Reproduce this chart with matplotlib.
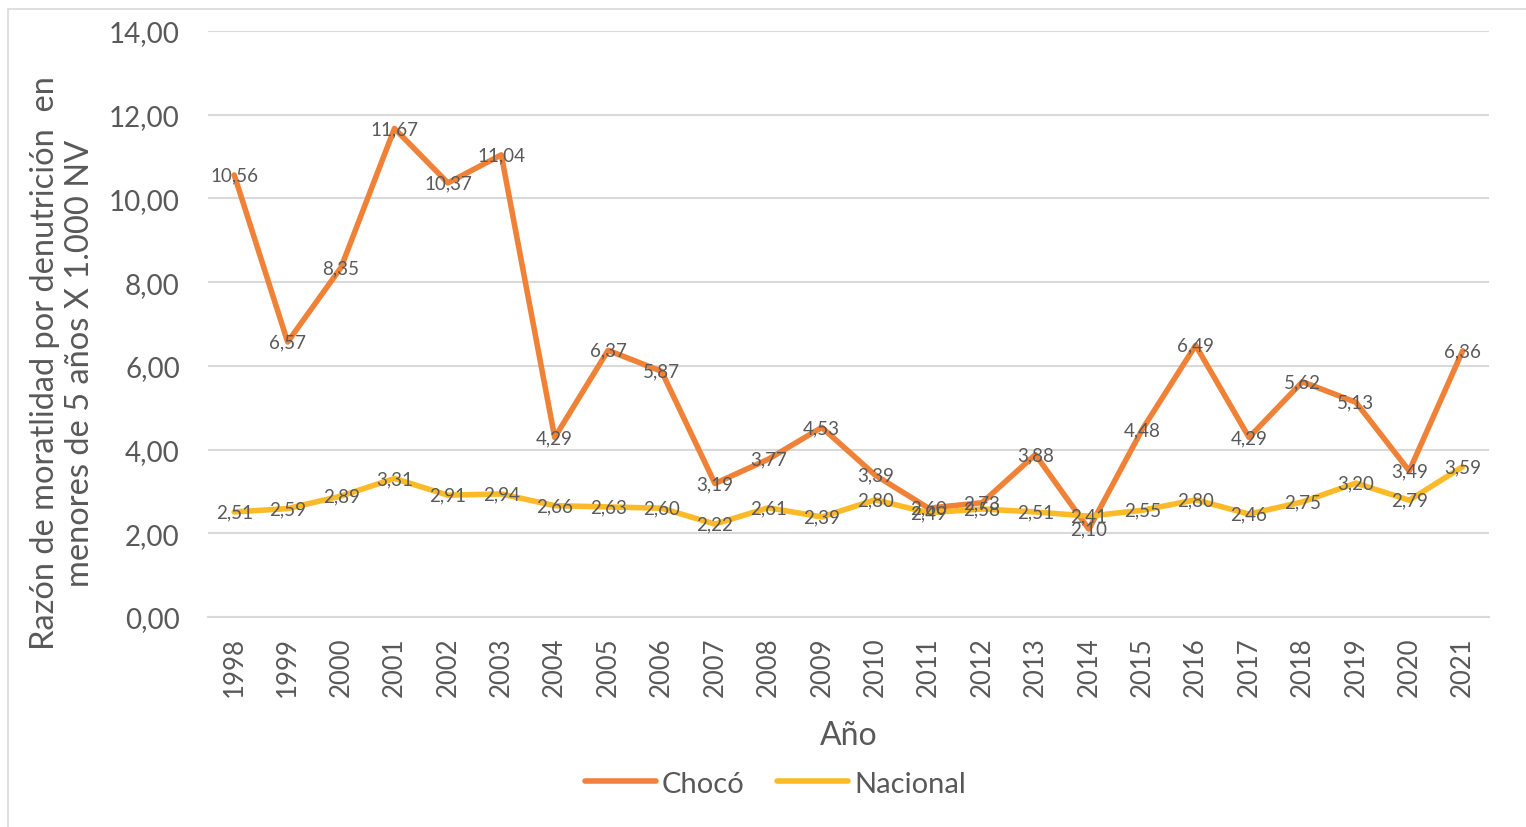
import matplotlib
matplotlib.use("Agg")
import matplotlib.pyplot as plt
from matplotlib.patches import Rectangle

# Data
years = [str(y) for y in range(1998, 2022)]
choco = [10.56, 6.57, 8.35, 11.67, 10.37, 11.04, 4.29, 6.37, 5.87, 3.19, 3.77, 4.53,
         3.39, 2.60, 2.73, 3.88, 2.10, 4.48, 6.49, 4.29, 5.62, 5.13, 3.49, 6.36]
nacional = [2.51, 2.59, 2.89, 3.31, 2.91, 2.94, 2.66, 2.63, 2.60, 2.22, 2.61, 2.39,
            2.80, 2.49, 2.58, 2.51, 2.41, 2.55, 2.80, 2.46, 2.75, 3.20, 2.79, 3.59]
y_ticks = [0, 2, 4, 6, 8, 10, 12, 14]

plt.rcParams['font.family'] = ['Lato', 'DejaVu Sans']
gray = '#595959'

fig = plt.figure(figsize=(15.26, 8.28), dpi=100)
ax = fig.add_axes([0.136, 0.2536, 0.84, 0.7078])

x = list(range(len(years)))
ax.plot(x, choco, color='#EF8237', linewidth=4, label='Chocó',
        solid_joinstyle='round', solid_capstyle='round')
ax.plot(x, nacional, color='#FCBA28', linewidth=4, label='Nacional',
        solid_joinstyle='round', solid_capstyle='round')

# data labels centred on the points, like the original
for xi, v in zip(x, choco):
    ax.text(xi, v, f"{v:.2f}".replace('.', ','), ha='center', va='center',
            fontsize=13.5, color=gray)
for xi, v in zip(x, nacional):
    ax.text(xi, v, f"{v:.2f}".replace('.', ','), ha='center', va='center',
            fontsize=13.5, color=gray)

ax.set_xlim(-0.5, len(years) - 0.5)
ax.set_ylim(0, 14)
ax.set_yticks(y_ticks)
ax.set_yticklabels([f"{t:.2f}".replace('.', ',') for t in y_ticks], fontsize=20, color=gray)
ax.set_xticks(x)
ax.set_xticklabels(years, rotation=90, fontsize=18.5, color=gray)
ax.tick_params(axis='y', length=0, pad=20)
ax.tick_params(axis='x', length=0, pad=14)

ax.grid(axis='y', color='#d9d9d9', linewidth=1.5)
ax.set_axisbelow(True)
for s in ['top', 'right', 'left']:
    ax.spines[s].set_visible(False)
ax.spines['bottom'].set_color('#d9d9d9')
ax.spines['bottom'].set_linewidth(1.5)

ax.set_xlabel('Año', fontsize=23, color=gray)
ax.xaxis.set_label_coords(0.5, -0.175)
ax.set_ylabel('Razón de moratlidad por denutrición  en\nmenores de 5 años X 1.000 NV',
              fontsize=23.5, color=gray)
ax.yaxis.set_label_coords(-0.088, 0.435)

leg = fig.legend(loc='lower center', bbox_to_anchor=(0.508, 0.005), ncol=2, frameon=False,
                 fontsize=21, handlelength=2.45, columnspacing=1.1, handletextpad=0.2)
for t in leg.get_texts():
    t.set_color(gray)

# light frame around the whole chart
fig.patches.append(Rectangle((0.005, -0.01), 1.2, 0.998, transform=fig.transFigure,
                             fill=False, edgecolor='#d9d9d9', linewidth=1.2))

fig.savefig('out.png', dpi=100)
